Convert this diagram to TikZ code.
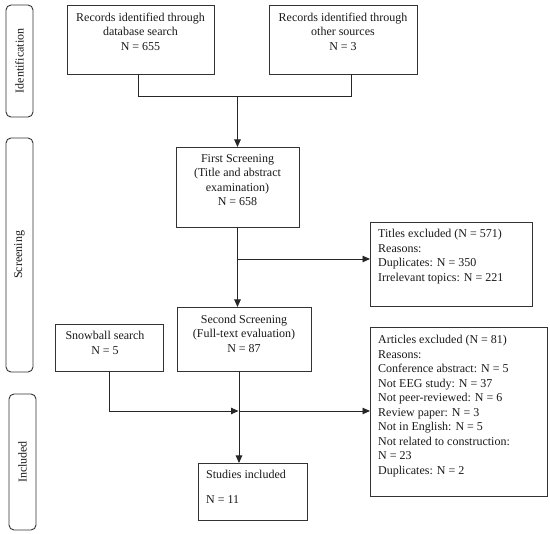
\documentclass[tikz,border=0pt]{standalone}
\usepackage{fontspec}
\setmainfont{Liberation Serif}
\usetikzlibrary{arrows.meta}
\begin{document}
\begin{tikzpicture}[x=1pt,y=-1pt,
  every node/.style={font=\fontsize{12}{14.5}\selectfont, text=black!90},
  box/.style={draw=black!80, line width=0.9pt, inner sep=0pt, outer sep=0pt},
  phase/.style={draw=black!80, line width=0.9pt, rounded corners=5pt, inner sep=0pt, outer sep=0pt},
  ctext/.style={anchor=north, align=center, inner sep=0pt},
  ltext/.style={anchor=north west, align=left, inner sep=0pt},
  conn/.style={draw=black!85, line width=0.9pt},
  arr/.style={conn, -{Triangle[length=7.5pt,width=6.5pt]}}]
\useasboundingbox (0,0) rectangle (550,534);

% phase boxes
\node[phase, rotate=90, minimum width=112pt, minimum height=27pt] (p1) at (19.5,61) {Identification};
\node[phase, rotate=90, minimum width=234pt, minimum height=27pt] (p2) at (19.5,255) {Screening};
\node[phase, rotate=90, minimum width=136pt, minimum height=27pt] (p3) at (22.5,462) {Included};

% boxes
\node[box, minimum width=147pt, minimum height=69pt] (b1) at (140.5,39.5) {};
\node[box, minimum width=148pt, minimum height=69pt] (b2) at (343,39.5) {};
\node[box, minimum width=123pt, minimum height=80pt] (b3) at (237.5,187) {};
\node[box, minimum width=134pt, minimum height=64pt] (b4) at (244,339) {};
\node[box, minimum width=162pt, minimum height=84pt] (t) at (451,264) {};
\node[box, minimum width=108pt, minimum height=47pt] (snow) at (109,347.5) {};
\node[box, minimum width=177pt, minimum height=169pt] (art) at (458.5,411.5) {};
\node[box, minimum width=109pt, minimum height=57pt] (inc) at (252.5,491.5) {};

% texts
\node[ctext] (tb1) at ([yshift=-7.5pt]b1.north) {Records identified through\\database search\\N = 655};
\node[ctext] (tb2) at ([yshift=-7.5pt]b2.north) {Records identified through\\other sources\\N = 3};
\node[ctext] (tb3) at ([yshift=-7pt]b3.north) {First Screening\\(Title and abstract\\examination)\\N = 658};
\node[ctext] (tb4) at ([yshift=-7.5pt]b4.north) {Second Screening\\(Full-text evaluation)\\N = 87};
\node[ctext] (tsnow) at ([xshift=-4pt,yshift=-7pt]snow.north) {Snowball search\\N = 5};
\node[ltext] (tt) at ([xshift=8pt,yshift=-7pt]t.north west) {Titles excluded (N = 571)\\Reasons:\\Duplicates: N = 350\\Irrelevant topics: N = 221};
\node[ltext] (tart) at ([xshift=8pt,yshift=-8pt]art.north west) {Articles excluded (N = 81)\\Reasons:\\Conference abstract: N = 5\\Not EEG study: N = 37\\Not peer-reviewed: N = 6\\Review paper: N = 3\\Not in English: N = 5\\Not related to construction:\\N = 23\\Duplicates: N = 2};
\node[ltext] (tinc) at ([xshift=8pt,yshift=-7pt]inc.north west) {Studies included\\[10pt]N = 11};

% connectors
\coordinate (j1) at (237.5,96);
\draw[conn] ([xshift=-2.5pt]b1.south) -- ++(0,22) -| ([xshift=8pt]b2.south);
\draw[arr] (j1) -- (j1 |- b3.north);
\draw[arr] (b3.south) -- (b3.south |- b4.north);
\coordinate (j2) at (237.5,259);
\draw[arr] (j2) -- (j2 -| t.west);
\coordinate (j3) at (239,411);
\draw[arr] ([xshift=-5pt]b4.south) -- ([xshift=-5pt]b4.south |- inc.north);
\draw[arr] (snow.south) |- ([xshift=-0.5pt]j3);
\draw[arr] (j3) -- (j3 -| art.west);
\end{tikzpicture}
\end{document}
